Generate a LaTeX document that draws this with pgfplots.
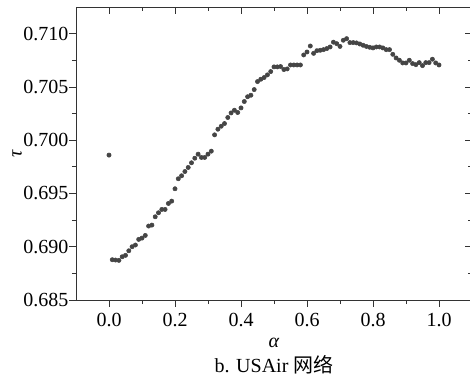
\documentclass[border=0pt]{standalone}
\usepackage{fontspec}
\setmainfont{Liberation Serif}
\newfontfamily\cjk{Noto Sans CJK SC}
\usepackage{pgfplots}
\usepackage{pgfplotstable}
\pgfplotsset{compat=1.18}
\definecolor{dotc}{HTML}{454545}
\definecolor{axc}{HTML}{333333}
\pgfplotstableread{
a t
0.00 0.69860
0.01 0.68878
0.02 0.68875
0.03 0.68872
0.04 0.68906
0.05 0.68919
0.06 0.68962
0.07 0.69000
0.08 0.69016
0.09 0.69069
0.10 0.69081
0.11 0.69106
0.12 0.69194
0.13 0.69203
0.14 0.69281
0.15 0.69319
0.16 0.69350
0.17 0.69350
0.18 0.69406
0.19 0.69428
0.20 0.69544
0.21 0.69638
0.22 0.69666
0.23 0.69706
0.24 0.69744
0.25 0.69788
0.26 0.69831
0.27 0.69869
0.28 0.69838
0.29 0.69838
0.30 0.69869
0.31 0.69897
0.32 0.70050
0.33 0.70103
0.34 0.70131
0.35 0.70156
0.36 0.70213
0.37 0.70256
0.38 0.70281
0.39 0.70260
0.40 0.70303
0.41 0.70363
0.42 0.70408
0.43 0.70422
0.44 0.70475
0.45 0.70550
0.46 0.70572
0.47 0.70588
0.48 0.70613
0.49 0.70644
0.50 0.70688
0.51 0.70688
0.52 0.70691
0.53 0.70663
0.54 0.70669
0.55 0.70706
0.56 0.70706
0.57 0.70706
0.58 0.70706
0.59 0.70800
0.60 0.70828
0.61 0.70884
0.62 0.70815
0.63 0.70840
0.64 0.70844
0.65 0.70850
0.66 0.70860
0.67 0.70875
0.68 0.70920
0.69 0.70906
0.70 0.70880
0.71 0.70938
0.72 0.70953
0.73 0.70916
0.74 0.70916
0.75 0.70913
0.76 0.70903
0.77 0.70891
0.78 0.70880
0.79 0.70872
0.80 0.70866
0.81 0.70875
0.82 0.70875
0.83 0.70866
0.84 0.70850
0.85 0.70850
0.86 0.70806
0.87 0.70772
0.88 0.70750
0.89 0.70725
0.90 0.70725
0.91 0.70750
0.92 0.70719
0.93 0.70709
0.94 0.70728
0.95 0.70700
0.96 0.70728
0.97 0.70728
0.98 0.70760
0.99 0.70725
1.00 0.70706
}\datatab
\begin{document}
\fontsize{15}{19}\selectfont
\begin{tikzpicture}
\pgfplotsset{
  common/.style={
    scale only axis,
    width=297pt, height=219.75pt,
    xmin=-0.1, xmax=1.1, ymin=0.685, ymax=0.7125,
    xtick={0,0.2,0.4,0.6,0.8,1.0},
    ytick={0.685,0.690,0.695,0.700,0.705,0.710},
    minor x tick num=1, minor y tick num=1,
    major tick length=5pt, minor tick length=3pt,
    axis line style={axc, line width=0.6pt},
    tick style={axc, line width=0.6pt},
  }
}
\begin{axis}[common,
  name=main,
  xtick pos=left, ytick pos=left, tick align=outside,
  /pgf/number format/assume math mode=true,
  xticklabel style={/pgf/number format/.cd, fixed, fixed zerofill, precision=1},
  yticklabel style={xshift=4.5pt, /pgf/number format/.cd, fixed, fixed zerofill, precision=3},
  scaled y ticks=false,
  xlabel={\textit{α}\\b. USAir {\cjk 网络}},
  xlabel style={align=center, yshift=2pt},
  ylabel={\textit{τ}},
  ylabel style={yshift=-9pt},
]
\addplot[only marks, mark=*, mark size=1.6pt, dotc, mark options={draw=dotc, fill=dotc}] table[x=a, y=t] {\datatab};
\end{axis}
\begin{axis}[common,
  xtick pos=right, ytick pos=right, tick align=inside,
  xticklabels={}, yticklabels={},
]
\addplot[draw=none] coordinates {(0,0.7)};
\end{axis}
\pgfresetboundingbox
\path (main.south west) ++(-57pt,-62.25pt) rectangle ++(352.5pt,287.25pt);
\end{tikzpicture}
\end{document}
